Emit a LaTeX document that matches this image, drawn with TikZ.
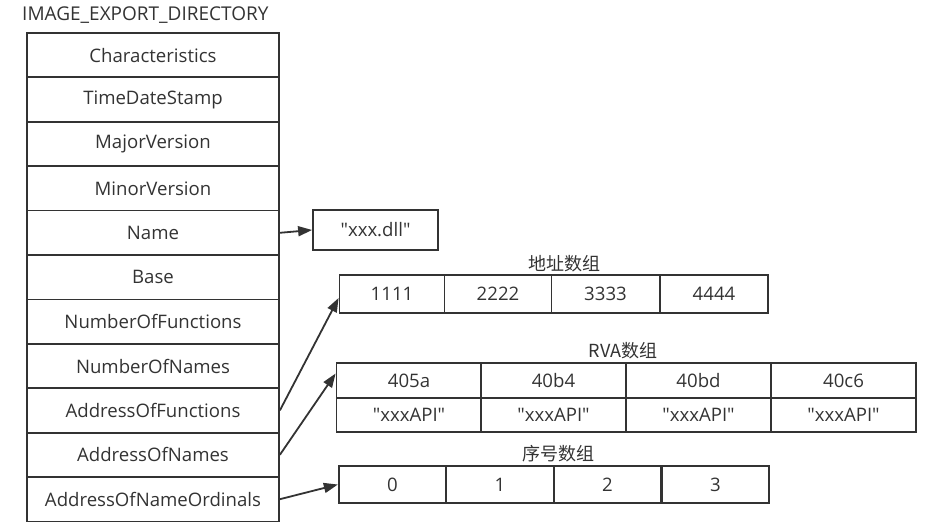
\documentclass[tikz,border=0pt]{standalone}
\usepackage{fontspec}
\setmainfont{Open Sans}
\newfontfamily\cjk{Noto Sans CJK SC}
\usetikzlibrary{arrows.meta}
\definecolor{ink}{HTML}{333333}
\begin{document}
\begin{tikzpicture}[x=1pt,y=-1pt,
  every node/.style={font=\fontsize{18.6}{21}\selectfont, text=ink},
  field/.style={draw=ink, line width=1.8pt, minimum width=252pt, minimum height=44.4pt, inner sep=0pt, anchor=center},
  cell/.style={draw=ink, line width=1.8pt, inner sep=0pt, anchor=center},
  ptr/.style={draw=ink, line width=1.8pt, -{Triangle[length=14pt,width=10pt]}},
  arrlabel/.style={font=\cjk\fontsize{18}{20}\selectfont}]
\useasboundingbox (0,0) rectangle (946,524);
\node[anchor=west, inner sep=0pt, font=\fontsize{19}{21}\selectfont] (title) at (22,15) {IMAGE\_EXPORT\_DIRECTORY};
\foreach \i/\t in {0/Characteristics,1/TimeDateStamp,2/MajorVersion,3/MinorVersion,4/Name,5/Base,6/NumberOfFunctions,7/NumberOfNames,8/AddressOfFunctions,9/AddressOfNames,10/AddressOfNameOrdinals}
  \node[field] (f\i) at (153,{55.2+44.4*\i}) {\t};
% name string
\node[cell, minimum width=125pt, minimum height=40pt] (dll) at (375.5,230) {\textquotedbl xxx.dll\textquotedbl};
% address array
\node[arrlabel] (alab) at (564,264) {地址数组};
\foreach \i/\t/\x/\w in {1/1111/392/105,2/2222/498/107,3/3333/605.5/108,4/4444/714/108}
  \node[cell, minimum width=\w pt, minimum height=38pt] (a\i) at (\x,294) {\t};
% RVA array
\node[arrlabel] (rlab) at (623,351) {RVA数组};
\foreach \i/\t/\x in {1/405a/409,2/40b4/553.5,3/40bd/698.5,4/40c6/843.5}{
  \node[cell, minimum width=145pt, minimum height=35pt] (r\i) at (\x,380.5) {\t};
  \node[cell, minimum width=145pt, minimum height=34pt] (s\i) at (\x,415) {\textquotedbl xxxAPI\textquotedbl};
}
% ordinal array
\node[arrlabel] (olab) at (558,454) {序号数组};
\foreach \i/\t/\x in {1/0/392.5,2/1/500,3/2/607.5,4/3/715.5}
  \node[cell, minimum width=107.5pt, minimum height=37pt] (o\i) at (\x,484.5) {\t};
% pointers
\draw[ptr] (f4.east) -- (dll.west);
\draw[ptr] (f8.east) -- ([yshift=-4pt]a1.west);
\draw[ptr] (f9.east) -- ([yshift=7pt]r1.west);
\draw[ptr] (f10.east) -- (o1.west);
\end{tikzpicture}
\end{document}
